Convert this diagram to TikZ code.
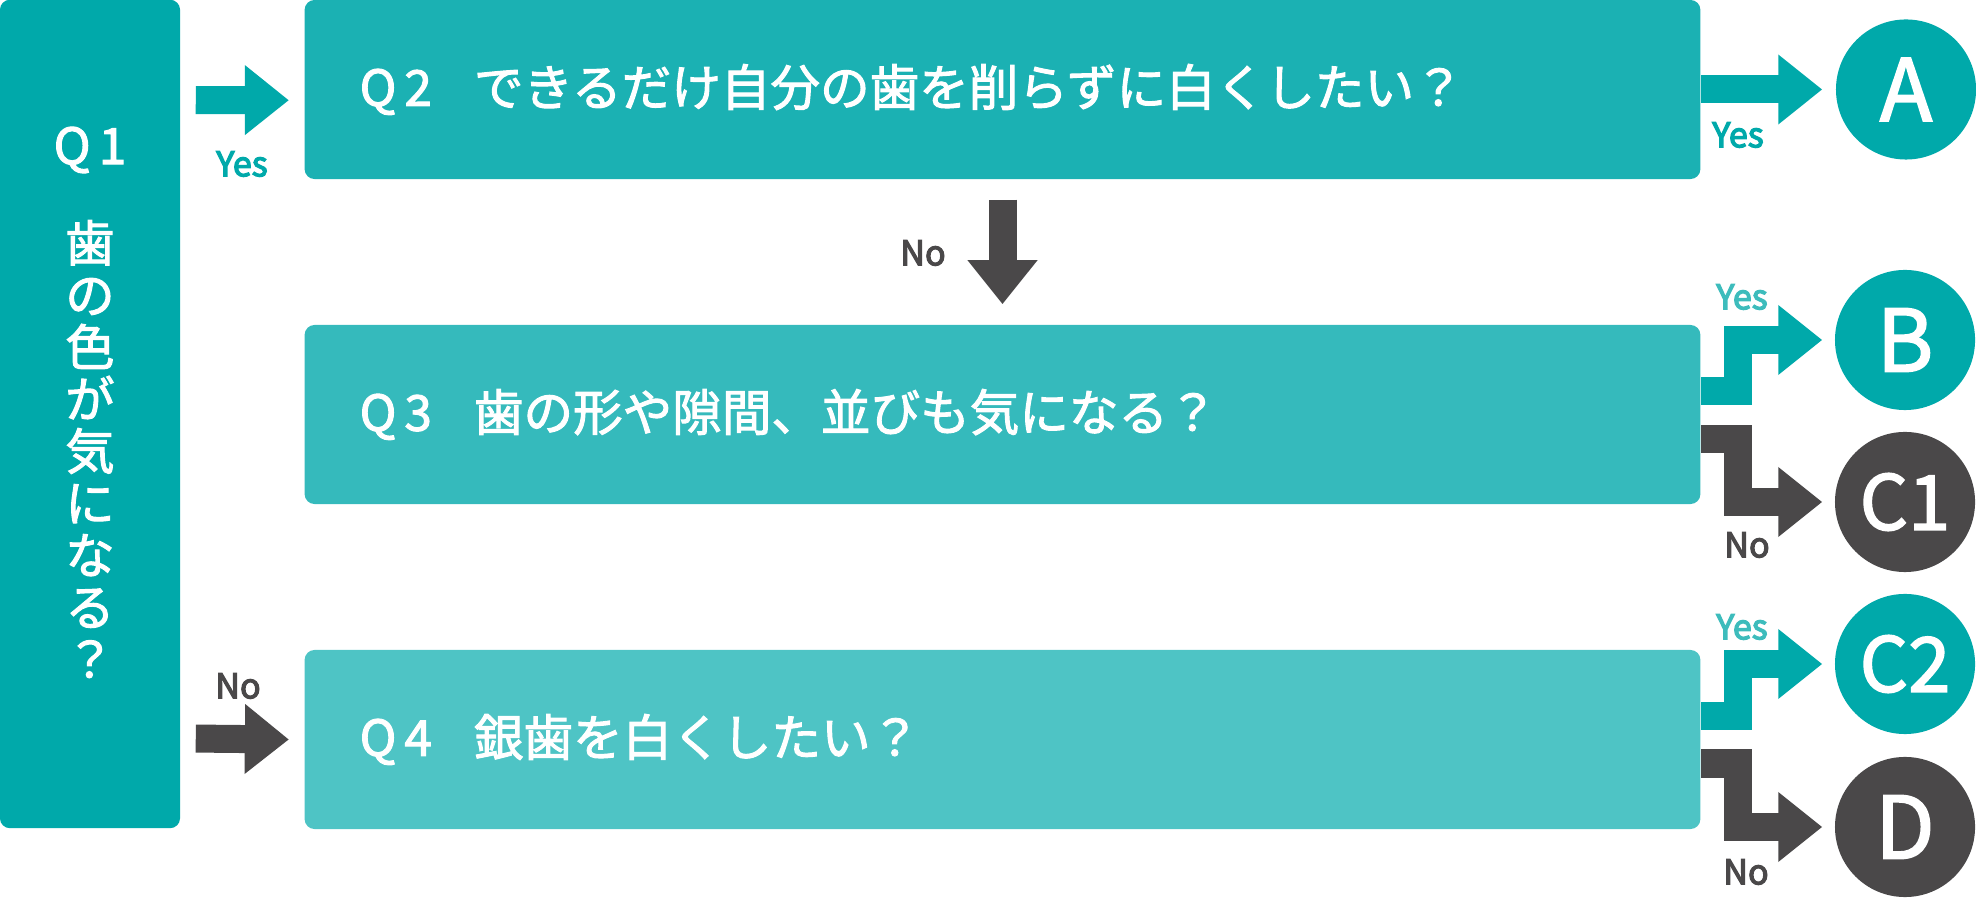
\documentclass[tikz,border=0pt]{standalone}
\usepackage{fontspec}
\setmainfont{Noto Sans CJK JP}
\newfontfamily\jpmid[FakeBold=2]{Noto Sans CJK JP}
\newfontfamily\jplabel[FakeBold=3.5]{Noto Sans CJK JP}
\usetikzlibrary{arrows.meta}
\definecolor{qoneteal}{HTML}{00A9AA}
\definecolor{qtwoteal}{HTML}{1BB1B3}
\definecolor{qthreeteal}{HTML}{35BABC}
\definecolor{qfourteal}{HTML}{4EC4C5}
\definecolor{yesteal}{HTML}{00A9AA}
\definecolor{yeslight}{HTML}{3DBCBC}
\definecolor{nogray}{HTML}{4A4849}
\newcommand{\qnum}[1]{Q\hspace{.08cm}#1\hspace{.42cm}}
\begin{document}
\begin{tikzpicture}[x=.01cm, y=-.01cm,
        qbox/.style={rounded corners=.1cm, minimum height=1.79cm, minimum width=13.95cm, text width=12.85cm, inner xsep=.55cm, inner ysep=0pt, align=left, text=white, font=\jpmid\fontsize{14.1pt}{17pt}\selectfont},
        answer/.style={circle, minimum size=1.4cm, inner sep=0pt, text=white, font=\jpmid\fontsize{24.5pt}{28pt}\selectfont},
        yesarrow/.style={line width=.28cm, yesteal, -{Triangle[width=.67cm, length=.44cm]}},
        noarrow/.style={yesarrow, nogray},
        yeslabel/.style={inner sep=0pt, text=yesteal, font=\jplabel\fontsize{9.7pt}{11pt}\selectfont},
        nolabel/.style={yeslabel, text=nogray}]
        \useasboundingbox (0,0) rectangle (1976,898);
        \node[fill=qoneteal, rounded corners=.1cm, minimum width=1.8cm, minimum height=8.28cm, inner sep=0pt] (q1) at (90,414) {};
        \node[inner sep=0pt, text=white, font=\jpmid\fontsize{14.2pt}{17pt}\selectfont] (q1head) at (90,150) {Q\hspace{.08cm}1};
        \node[inner sep=0pt, text=white, align=center, font=\jpmid\fontsize{14pt}{14.8pt}\selectfont] (q1ask) at (90,449) {歯\\の\\色\\が\\気\\に\\な\\る\\？};
        \node[qbox, fill=qtwoteal] (q2) at (1002.5,89.5) {\qnum{2}できるだけ自分の歯を削らずに白くしたい？};
        \node[qbox, fill=qthreeteal] (q3) at (1002.5,414.5) {\qnum{3}歯の形や隙間、並びも気になる？};
        \node[qbox, fill=qfourteal] (q4) at (1002.5,739.5) {\qnum{4}銀歯を白くしたい？};
        \node[answer, fill=yesteal] (ansA) at (1906,89.5) {A};
        \node[answer, fill=yesteal] (ansB) at (1905,340) {B};
        \node[answer, fill=nogray, font=\jpmid\fontsize{21.6pt}{25pt}\selectfont] (ansCi) at (1905,502) {C1};
        \node[answer, fill=yesteal, font=\jpmid\fontsize{21.6pt}{25pt}\selectfont] (ansCii) at (1905,664) {C2};
        \node[answer, fill=nogray] (ansD) at (1905,827) {D};
        % arrows out of Q1 and Q2
        \draw[yesarrow] ([shift={(15,101)}]q1.north east) -- ([shift={(-15,101)}]q2.north west);
        \draw[noarrow] ([shift={(15,739.5)}]q1.north east) -- ([shift={(-15,0)}]q4.west);
        \draw[yesarrow] (q2.east) -- ([shift={(-13,0)}]ansA.west);
        \draw[noarrow] ([shift={(0,20)}]q2.south) -- ([shift={(0,-20)}]q3.north);
        % bent arrows out of Q3 and Q4
        \draw[yesarrow] ([shift={(0,-23.5)}]q3.east) -- ++(36.5,0) |- ([shift={(-12,0)}]ansB.west);
        \draw[noarrow] ([shift={(0,24.5)}]q3.east) -- ++(37,0) |- ([shift={(-12,0)}]ansCi.west);
        \draw[yesarrow] ([shift={(0,-23.5)}]q4.east) -- ++(36.5,0) |- ([shift={(-12,0)}]ansCii.west);
        \draw[noarrow] ([shift={(0,24)}]q4.east) -- ++(37,0) |- ([shift={(-12,0)}]ansD.west);
        \node[yeslabel] (yesone) at (242,164) {Yes};
        \node[nolabel] (noone) at (238,686) {No};
        \node[yeslabel] (yestwo) at (1738,135) {Yes};
        \node[nolabel] (notwo) at (923,253) {No};
        \node[yeslabel, text=yeslight] (yesthree) at (1742,297) {Yes};
        \node[nolabel] (nothree) at (1747,545) {No};
        \node[yeslabel, text=yeslight] (yesfour) at (1742,627) {Yes};
        \node[nolabel] (nofour) at (1746,872) {No};
    \end{tikzpicture}
\end{document}
